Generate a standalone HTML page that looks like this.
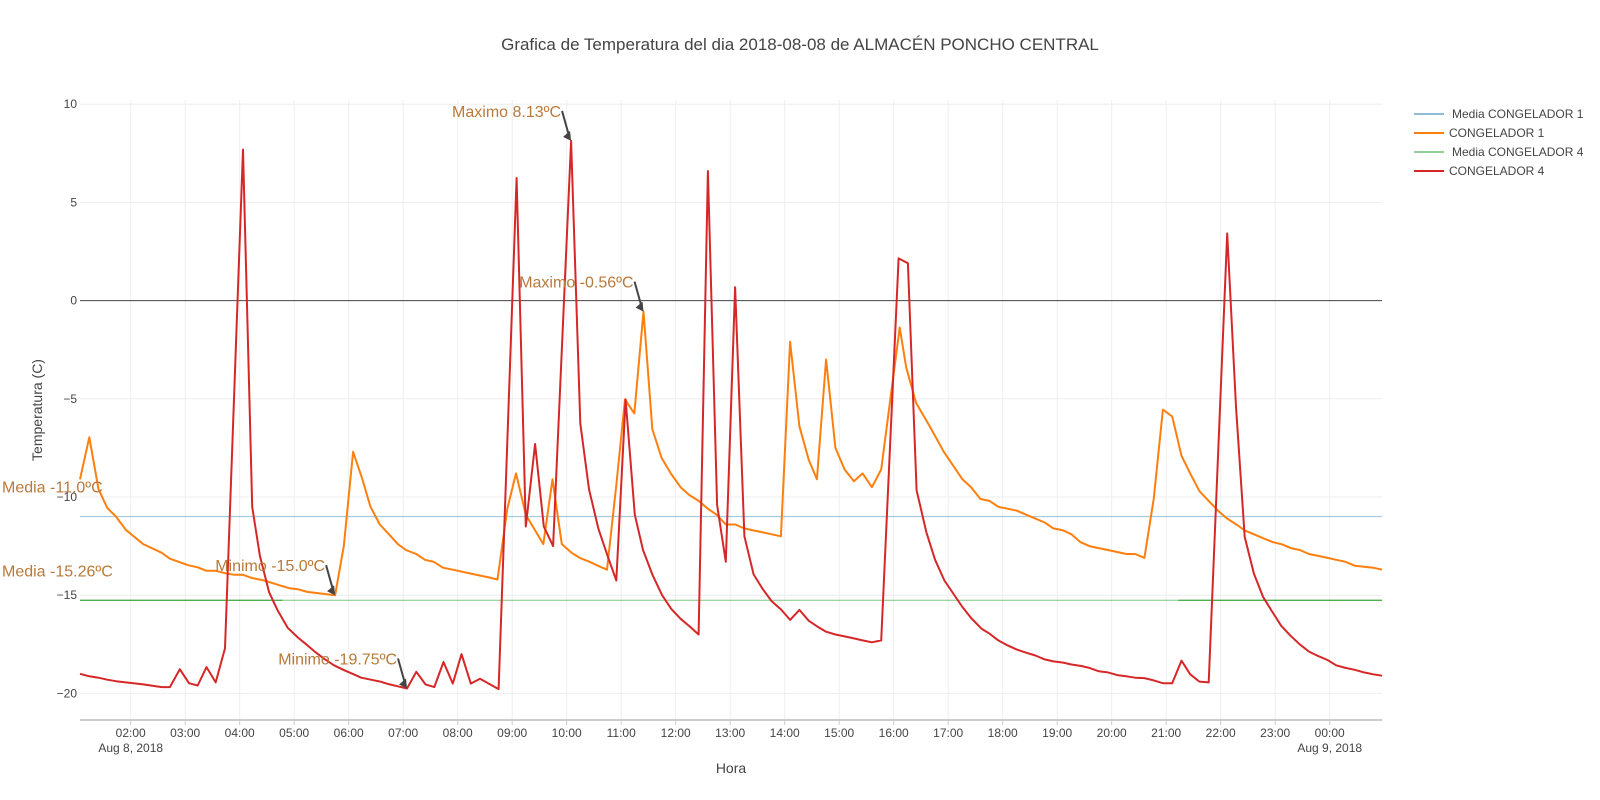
<!DOCTYPE html>
<html><head><meta charset="utf-8"><style>
body{margin:0;background:#fff;}
svg{display:block;font-family:"Liberation Sans",sans-serif;}
</style></head><body>
<svg id="chart" width="1600" height="800" viewBox="0 0 1600 800" xmlns="http://www.w3.org/2000/svg">
<text x="800" y="50" text-anchor="middle" font-size="17" fill="#444">Grafica de Temperatura del dia 2018-08-08 de ALMACÉN PONCHO CENTRAL</text>
<g id="grid"></g>
<g id="series"></g>
<g id="annots"></g>
<text transform="translate(42,410) rotate(-90)" text-anchor="middle" font-size="14" fill="#444">Temperatura (C)</text>
<text x="731" y="773" text-anchor="middle" font-size="14" fill="#444">Hora</text>
<g>
  <line x1="1414" y1="114" x2="1444" y2="114" stroke="#1f77b4" stroke-width="1"/>
  <text x="1452" y="118" font-size="12" fill="#444">Media CONGELADOR 1</text>
  <line x1="1414" y1="133" x2="1444" y2="133" stroke="#ff7f0e" stroke-width="2"/>
  <text x="1449" y="137" font-size="12" fill="#444">CONGELADOR 1</text>
  <line x1="1414" y1="152" x2="1444" y2="152" stroke="#2ca02c" stroke-width="1"/>
  <text x="1452" y="156" font-size="12" fill="#444">Media CONGELADOR 4</text>
  <line x1="1414" y1="171" x2="1444" y2="171" stroke="#d62728" stroke-width="2"/>
  <text x="1449" y="175" font-size="12" fill="#444">CONGELADOR 4</text>
</g>
</svg>
<script>
const c1Times=[1.07,1.24,1.41,1.57,1.73,1.91,2.23,2.57,2.72,3.06,3.23,3.39,3.56,3.73,3.90,4.06,4.22,4.45,4.74,4.92,5.07,5.24,5.75,5.91,6.08,6.24,6.40,6.57,6.74,6.90,7.05,7.24,7.40,7.56,7.73,7.91,8.24,8.58,8.73,8.91,9.07,9.25,9.57,9.74,9.91,10.09,10.24,10.42,10.57,10.74,10.91,11.07,11.24,11.41,11.57,11.74,11.91,12.09,12.25,12.42,12.59,12.75,12.92,13.09,13.26,13.42,13.60,13.76,13.93,14.10,14.27,14.44,14.59,14.76,14.93,15.10,15.27,15.43,15.60,15.77,15.94,16.11,16.23,16.41,16.66,16.92,17.26,17.42,17.59,17.76,17.92,18.10,18.26,18.43,18.60,18.77,18.93,19.11,19.26,19.43,19.59,19.76,19.93,20.10,20.27,20.43,20.60,20.77,20.94,21.11,21.28,21.44,21.61,21.78,21.95,22.12,22.29,22.44,22.61,22.78,22.96,23.11,23.29,23.45,23.62,23.79,23.96,24.12,24.29,24.46,24.63,24.80,24.96];
const c1Values=[-9.1,-6.96,-9.6,-10.56,-11.0,-11.67,-12.4,-12.84,-13.14,-13.48,-13.58,-13.76,-13.76,-13.88,-13.96,-13.96,-14.12,-14.25,-14.5,-14.65,-14.7,-14.83,-15.0,-12.5,-7.7,-9.0,-10.5,-11.4,-11.9,-12.4,-12.7,-12.9,-13.2,-13.3,-13.6,-13.7,-13.9,-14.1,-14.2,-10.6,-8.8,-10.9,-12.4,-9.1,-12.4,-12.84,-13.1,-13.3,-13.5,-13.7,-9.4,-5.03,-5.75,-0.56,-6.54,-8.0,-8.8,-9.5,-9.9,-10.2,-10.6,-10.9,-11.4,-11.4,-11.6,-11.7,-11.8,-11.9,-12.0,-2.1,-6.4,-8.1,-9.1,-3.0,-7.5,-8.6,-9.2,-8.8,-9.5,-8.6,-5.0,-1.37,-3.4,-5.2,-6.4,-7.7,-9.1,-9.5,-10.1,-10.2,-10.5,-10.6,-10.7,-10.9,-11.1,-11.3,-11.6,-11.7,-11.9,-12.3,-12.5,-12.6,-12.7,-12.8,-12.9,-12.9,-13.1,-10.1,-5.55,-5.9,-7.9,-8.8,-9.7,-10.2,-10.7,-11.1,-11.4,-11.7,-11.9,-12.1,-12.3,-12.4,-12.6,-12.7,-12.9,-13.0,-13.1,-13.2,-13.3,-13.5,-13.55,-13.6,-13.7];
const c4Times=[1.07,1.24,1.41,1.57,1.73,1.91,2.23,2.57,2.72,2.90,3.07,3.23,3.39,3.56,3.73,4.06,4.23,4.37,4.54,4.70,4.88,5.07,5.22,5.39,5.56,5.73,5.90,6.07,6.23,6.41,6.58,6.75,6.90,7.07,7.24,7.41,7.57,7.74,7.91,8.07,8.24,8.41,8.75,9.08,9.25,9.42,9.58,9.75,10.08,10.25,10.41,10.58,10.75,10.91,11.08,11.25,11.40,11.58,11.75,11.92,12.09,12.26,12.42,12.59,12.76,12.92,13.09,13.26,13.43,13.60,13.76,13.94,14.10,14.27,14.44,14.60,14.76,14.93,15.10,15.27,15.43,15.60,15.77,16.09,16.26,16.42,16.60,16.76,16.93,17.26,17.42,17.61,17.76,17.92,18.10,18.26,18.43,18.60,18.77,18.93,19.11,19.26,19.43,19.59,19.76,19.93,20.10,20.27,20.43,20.60,20.77,20.94,21.11,21.28,21.44,21.61,21.78,22.12,22.28,22.44,22.61,22.78,22.95,23.11,23.28,23.45,23.62,23.79,23.96,24.12,24.29,24.46,24.63,24.80,24.96];
const c4Values=[-19.0,-19.13,-19.2,-19.3,-19.38,-19.44,-19.54,-19.68,-19.68,-18.77,-19.48,-19.6,-18.66,-19.44,-17.7,7.69,-10.5,-13.0,-14.85,-15.8,-16.66,-17.16,-17.5,-17.9,-18.26,-18.57,-18.8,-19.0,-19.2,-19.3,-19.4,-19.54,-19.64,-19.75,-18.9,-19.54,-19.68,-18.4,-19.5,-18.0,-19.5,-19.25,-19.78,6.24,-11.5,-7.3,-11.5,-12.5,8.13,-6.26,-9.6,-11.6,-13.0,-14.25,-5.03,-10.9,-12.7,-14.0,-15.0,-15.7,-16.2,-16.6,-17.0,6.6,-10.4,-13.3,0.68,-12.0,-13.94,-14.7,-15.3,-15.75,-16.26,-15.75,-16.3,-16.6,-16.86,-17.0,-17.1,-17.2,-17.3,-17.4,-17.3,2.15,1.9,-9.66,-11.8,-13.2,-14.25,-15.6,-16.16,-16.7,-16.96,-17.3,-17.57,-17.77,-17.93,-18.07,-18.27,-18.37,-18.43,-18.53,-18.6,-18.7,-18.87,-18.93,-19.07,-19.13,-19.2,-19.22,-19.34,-19.48,-19.48,-18.33,-19.03,-19.4,-19.44,3.42,-5.4,-12.03,-13.9,-15.1,-15.86,-16.56,-17.06,-17.5,-17.87,-18.1,-18.3,-18.57,-18.7,-18.8,-18.93,-19.03,-19.1];
const mediaValues=[-11.0,-15.26];
const yTicks=[10,5,0,-5,-10,-15,-20];
const xTickHours=[2,3,4,5,6,7,8,9,10,11,12,13,14,15,16,17,18,19,20,21,22,23,24];
const xTickLabels=["02:00","03:00","04:00","05:00","06:00","07:00","08:00","09:00","10:00","11:00","12:00","13:00","14:00","15:00","16:00","17:00","18:00","19:00","20:00","21:00","22:00","23:00","00:00"];
const annTexts=["Maximo 8.13ºC","Maximo -0.56ºC","Minimo -15.0ºC","Minimo -19.75ºC"];
const annTimes=[10.08,11.41,5.75,7.07];
const annValues=[8.13,-0.56,-15.0,-19.75];

const NS="http://www.w3.org/2000/svg";
const L=80,R=1382,T=100,B=720;
function X(t){return 130.7+(t-2)*54.5;}
function Y(v){return 300.6-v*19.64;}
function mk(tag,attrs,parent){const e=document.createElementNS(NS,tag);for(const k in attrs)e.setAttribute(k,attrs[k]);parent.appendChild(e);return e;}
const grid=document.getElementById('grid');
const ser=document.getElementById('series');
const ann=document.getElementById('annots');
xTickHours.forEach((h,i)=>{
  const g=mk('line',{x1:X(h),x2:X(h),y1:T,y2:B,stroke:'#eee','stroke-width':1},grid);
  
  
  const tk=mk('line',{x1:X(h),x2:X(h),y1:B,y2:B+5,stroke:'#ccc','stroke-width':1},grid);
  
  
  const tx=mk('text',{x:X(h),y:B+17,'text-anchor':'middle','font-size':12,fill:'#444'},grid);
  tx.textContent=xTickLabels[i];
  
  
});
const d1=mk('text',{x:X(2),y:B+32,'text-anchor':'middle','font-size':12,fill:'#444'},grid);d1.textContent='Aug 8, 2018';


const d2=mk('text',{x:X(24),y:B+32,'text-anchor':'middle','font-size':12,fill:'#444'},grid);d2.textContent='Aug 9, 2018';


yTicks.forEach(v=>{
  const g=mk('line',{x1:L,x2:R,y1:Y(v),y2:Y(v),stroke:v===0?'#444':'#eee','stroke-width':1},grid);
  
  
  const tx=mk('text',{x:L-3,y:Y(v)+4,'text-anchor':'end','font-size':12,fill:'#444'},grid);
  tx.textContent=v<0?'\u2212'+(-v):String(v);
  
  
});
const ax=mk('line',{x1:L,x2:R,y1:B,y2:B,stroke:'#ccc','stroke-width':2},grid);


const m1=mk('line',{x1:L,x2:R,y1:Y(mediaValues[0]),y2:Y(mediaValues[0]),stroke:'#1f77b4','stroke-opacity':0.45,'stroke-width':1},ser);


const m4=mk('line',{x1:L,x2:R,y1:Y(mediaValues[1]),y2:Y(mediaValues[1]),stroke:'#2ca02c','stroke-opacity':0.6,'stroke-width':1},ser);


const m4a=mk('line',{x1:L,x2:X(4.78),y1:Y(mediaValues[1]),y2:Y(mediaValues[1]),stroke:'#2ca02c','stroke-width':1},ser);


const m4b=mk('line',{x1:X(21.22),x2:R,y1:Y(mediaValues[1]),y2:Y(mediaValues[1]),stroke:'#2ca02c','stroke-width':1},ser);


function path(ts,vs){return ts.map((t,i)=>(i?'L':'M')+X(t).toFixed(1)+','+Y(vs[i]).toFixed(1)).join(' ');}
const p1=mk('path',{d:path(c1Times,c1Values),fill:'none',stroke:'#ff7f0e','stroke-width':2,'stroke-linejoin':'round'},ser);


const p4=mk('path',{d:path(c4Times,c4Values),fill:'none',stroke:'#d62728','stroke-width':2,'stroke-linejoin':'round'},ser);


annTexts.forEach((s,i)=>{
  const hx=X(annTimes[i]), hy=Y(annValues[i]);
  const tx0=hx-9, ty0=hy-30;
  const ln=mk('line',{x1:tx0,y1:ty0,x2:hx-2,y2:hy-5,stroke:'#444','stroke-width':2},ann);
  
  
  const ah=mk('polygon',{points:`${hx},${hy} ${hx-8},${hy-4} ${hx-1},${hy-10}`,fill:'#444'},ann);
  
  
  const t=mk('text',{x:tx0-1,y:ty0+6,'text-anchor':'end','font-size':16,fill:'#b8793a'},ann);
  t.textContent=s;
  
  
});
const md1=mk('text',{x:2,y:Y(mediaValues[0])-24,'font-size':16,fill:'#b8793a'},ann);md1.textContent='Media -11.0ºC';


const md4=mk('text',{x:2,y:Y(mediaValues[1])-24,'font-size':16,fill:'#b8793a'},ann);md4.textContent='Media -15.26ºC';


</script>
</body></html>
